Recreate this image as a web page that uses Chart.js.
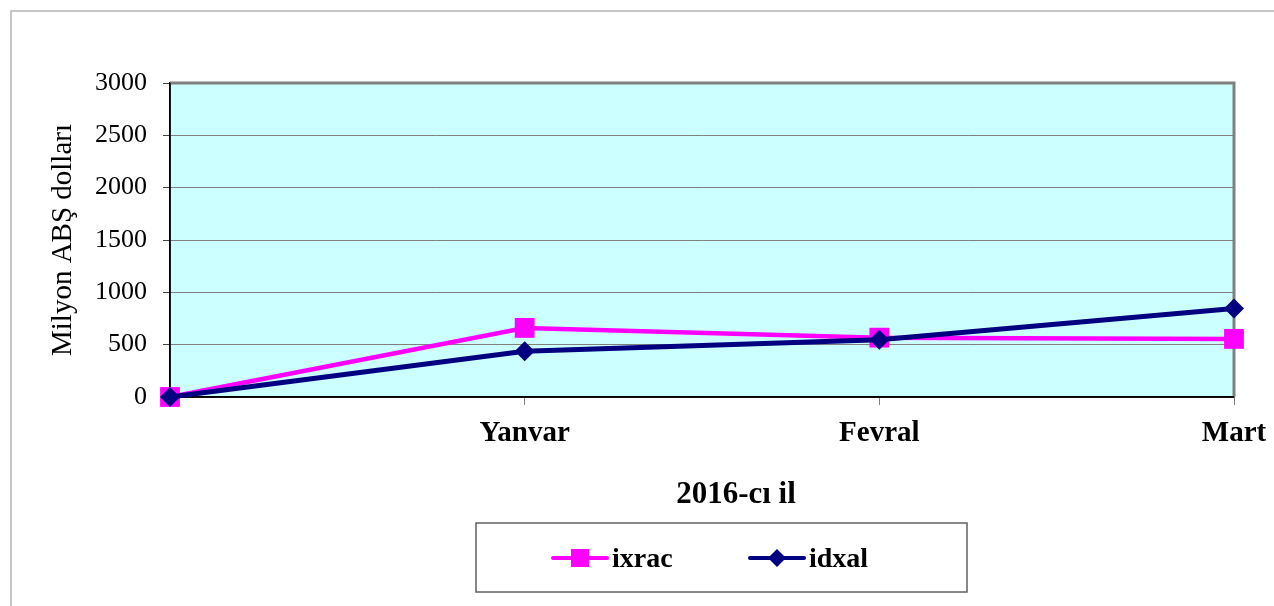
<!DOCTYPE html>
<html>
<head>
<meta charset="utf-8">
<script src="https://cdn.jsdelivr.net/npm/chart.js@4.4.1/dist/chart.umd.min.js"></script>
<style>
  html, body { margin: 0; padding: 0; background: #ffffff; }
  #wrap { width: 1274px; height: 606px; position: relative; }
</style>
</head>
<body>
<div id="wrap"><canvas id="c" width="1274" height="606"></canvas></div>
<script>
const categories = ['', 'Yanvar', 'Fevral', 'Mart'];
const ixracValues = [0, 660, 567, 555];
const idxalValues = [0, 437, 548, 845];
const yTicks = [0, 500, 1000, 1500, 2000, 2500, 3000];
const seriesNames = ['ixrac', 'idxal'];
const yTitle = 'Milyon ABŞ dolları';
const xTitle = '2016-cı il';

const SERIF = '"Liberation Serif", "Times New Roman", serif';

const decorPlugin = {
  id: 'decor',
  beforeDraw(chart) {
    const ctx = chart.ctx, a = chart.chartArea;
    ctx.save();
    ctx.fillStyle = '#ffffff';
    ctx.fillRect(0, 0, chart.width, chart.height);
    ctx.strokeStyle = '#b4b4b4';
    ctx.lineWidth = 1.5;
    ctx.strokeRect(11, 11, 1400, 800);
    ctx.fillStyle = '#CCFFFF';
    ctx.fillRect(a.left, a.top, a.right - a.left, a.bottom - a.top);
    ctx.restore();
  },
  beforeDatasetsDraw(chart) {
    const ctx = chart.ctx, a = chart.chartArea;
    ctx.save();
    ctx.strokeStyle = '#808080';
    ctx.lineWidth = 3;
    ctx.beginPath();
    ctx.moveTo(a.left, a.top);
    ctx.lineTo(a.right, a.top);
    ctx.lineTo(a.right, a.bottom);
    ctx.stroke();
    ctx.strokeStyle = '#000000';
    ctx.lineWidth = 1.5;
    ctx.beginPath();
    ctx.moveTo(a.left, a.top);
    ctx.lineTo(a.left, a.bottom);
    ctx.lineTo(a.right, a.bottom);
    ctx.stroke();
    ctx.restore();
  },
  afterDraw(chart) {
    const ctx = chart.ctx;
    ctx.save();
    ctx.fillStyle = '#000';
    ctx.font = 'bold 31px ' + SERIF;
    ctx.textAlign = 'center';
    ctx.textBaseline = 'alphabetic';
    ctx.fillText(xTitle, 736, 503);
    ctx.strokeStyle = '#606060';
    ctx.lineWidth = 1.5;
    ctx.strokeRect(476, 523, 491, 69);
    const itemX = [553, 750];
    const ly = 558;
    chart.data.datasets.forEach((ds, i) => {
      const x0 = itemX[i];
      ctx.strokeStyle = ds.borderColor;
      ctx.lineWidth = 4;
      ctx.lineCap = 'round';
      ctx.beginPath();
      ctx.moveTo(x0, ly);
      ctx.lineTo(x0 + 54, ly);
      ctx.stroke();
      const cx = x0 + 27;
      ctx.fillStyle = ds.pointBackgroundColor;
      ctx.beginPath();
      if (ds.pointStyle === 'rect') {
        ctx.rect(cx - 9, ly - 9, 18, 18);
      } else {
        ctx.moveTo(cx, ly - 9);
        ctx.lineTo(cx + 9, ly);
        ctx.lineTo(cx, ly + 9);
        ctx.lineTo(cx - 9, ly);
        ctx.closePath();
      }
      ctx.fill();
      ctx.fillStyle = '#000';
      ctx.font = 'bold 28px ' + SERIF;
      ctx.textAlign = 'left';
      ctx.textBaseline = 'alphabetic';
      ctx.fillText(ds.label, x0 + 59, 567);
    });
    ctx.restore();
  }
};

new Chart(document.getElementById('c'), {
  type: 'line',
  data: {
    labels: categories,
    datasets: [
      {
        label: seriesNames[0],
        data: ixracValues,
        borderColor: '#FF00FF',
        backgroundColor: '#FF00FF',
        pointBackgroundColor: '#FF00FF',
        pointBorderColor: '#FF00FF',
        pointStyle: 'rect',
        pointRadius: 14,
        pointBorderWidth: 0,
        pointHoverRadius: 14,
        borderWidth: 4.5,
        tension: 0,
        fill: false,
        clip: false,
        order: 2
      },
      {
        label: seriesNames[1],
        data: idxalValues,
        borderColor: '#000080',
        backgroundColor: '#000080',
        pointBackgroundColor: '#000080',
        pointBorderColor: '#000080',
        pointStyle: 'rectRot',
        pointRadius: 10,
        pointBorderWidth: 0,
        pointHoverRadius: 10,
        borderWidth: 5,
        tension: 0,
        fill: false,
        clip: false,
        order: 1
      }
    ]
  },
  options: {
    responsive: false,
    animation: false,
    devicePixelRatio: 1,
    layout: { padding: { left: 0, top: 83, right: 40, bottom: 0 } },
    plugins: {
      legend: { display: false },
      tooltip: { enabled: false },
      title: { display: false }
    },
    scales: {
      x: {
        type: 'category',
        offset: false,
        afterFit(scale) {
          scale.height = 209;
          scale.paddingLeft = 0;
          scale.paddingRight = 0;
        },
        grid: {
          display: true,
          drawOnChartArea: false,
          drawTicks: true,
          tickLength: 8,
          tickColor: '#808080',
          tickWidth: 1
        },
        border: { display: true, color: '#000000', width: 1.5 },
        ticks: {
          color: '#000000',
          font: { family: SERIF, size: 29, weight: 'bold' },
          padding: 11,
          maxRotation: 0,
          autoSkip: false
        },
        title: { display: false }
      },
      y: {
        min: 0,
        max: 3000,
        afterFit(scale) {
          scale.width = 170;
          scale.paddingTop = 0;
          scale.paddingBottom = 0;
        },
        afterBuildTicks(scale) { scale.ticks = yTicks.map(v => ({ value: v })); },
        grid: {
          display: true,
          color: '#808080',
          lineWidth: 1,
          drawTicks: true,
          tickLength: 7,
          tickColor: '#404040'
        },
        border: { display: true, color: '#000000', width: 1.5 },
        ticks: {
          color: '#000000',
          font: { family: SERIF, size: 26 },
          padding: 16,
          callback: (v) => String(v)
        },
        title: {
          display: true,
          text: yTitle,
          color: '#000000',
          font: { family: SERIF, size: 29 },
          padding: { top: 46, bottom: 0 }
        }
      }
    }
  },
  plugins: [decorPlugin]
});
</script>
</body>
</html>
